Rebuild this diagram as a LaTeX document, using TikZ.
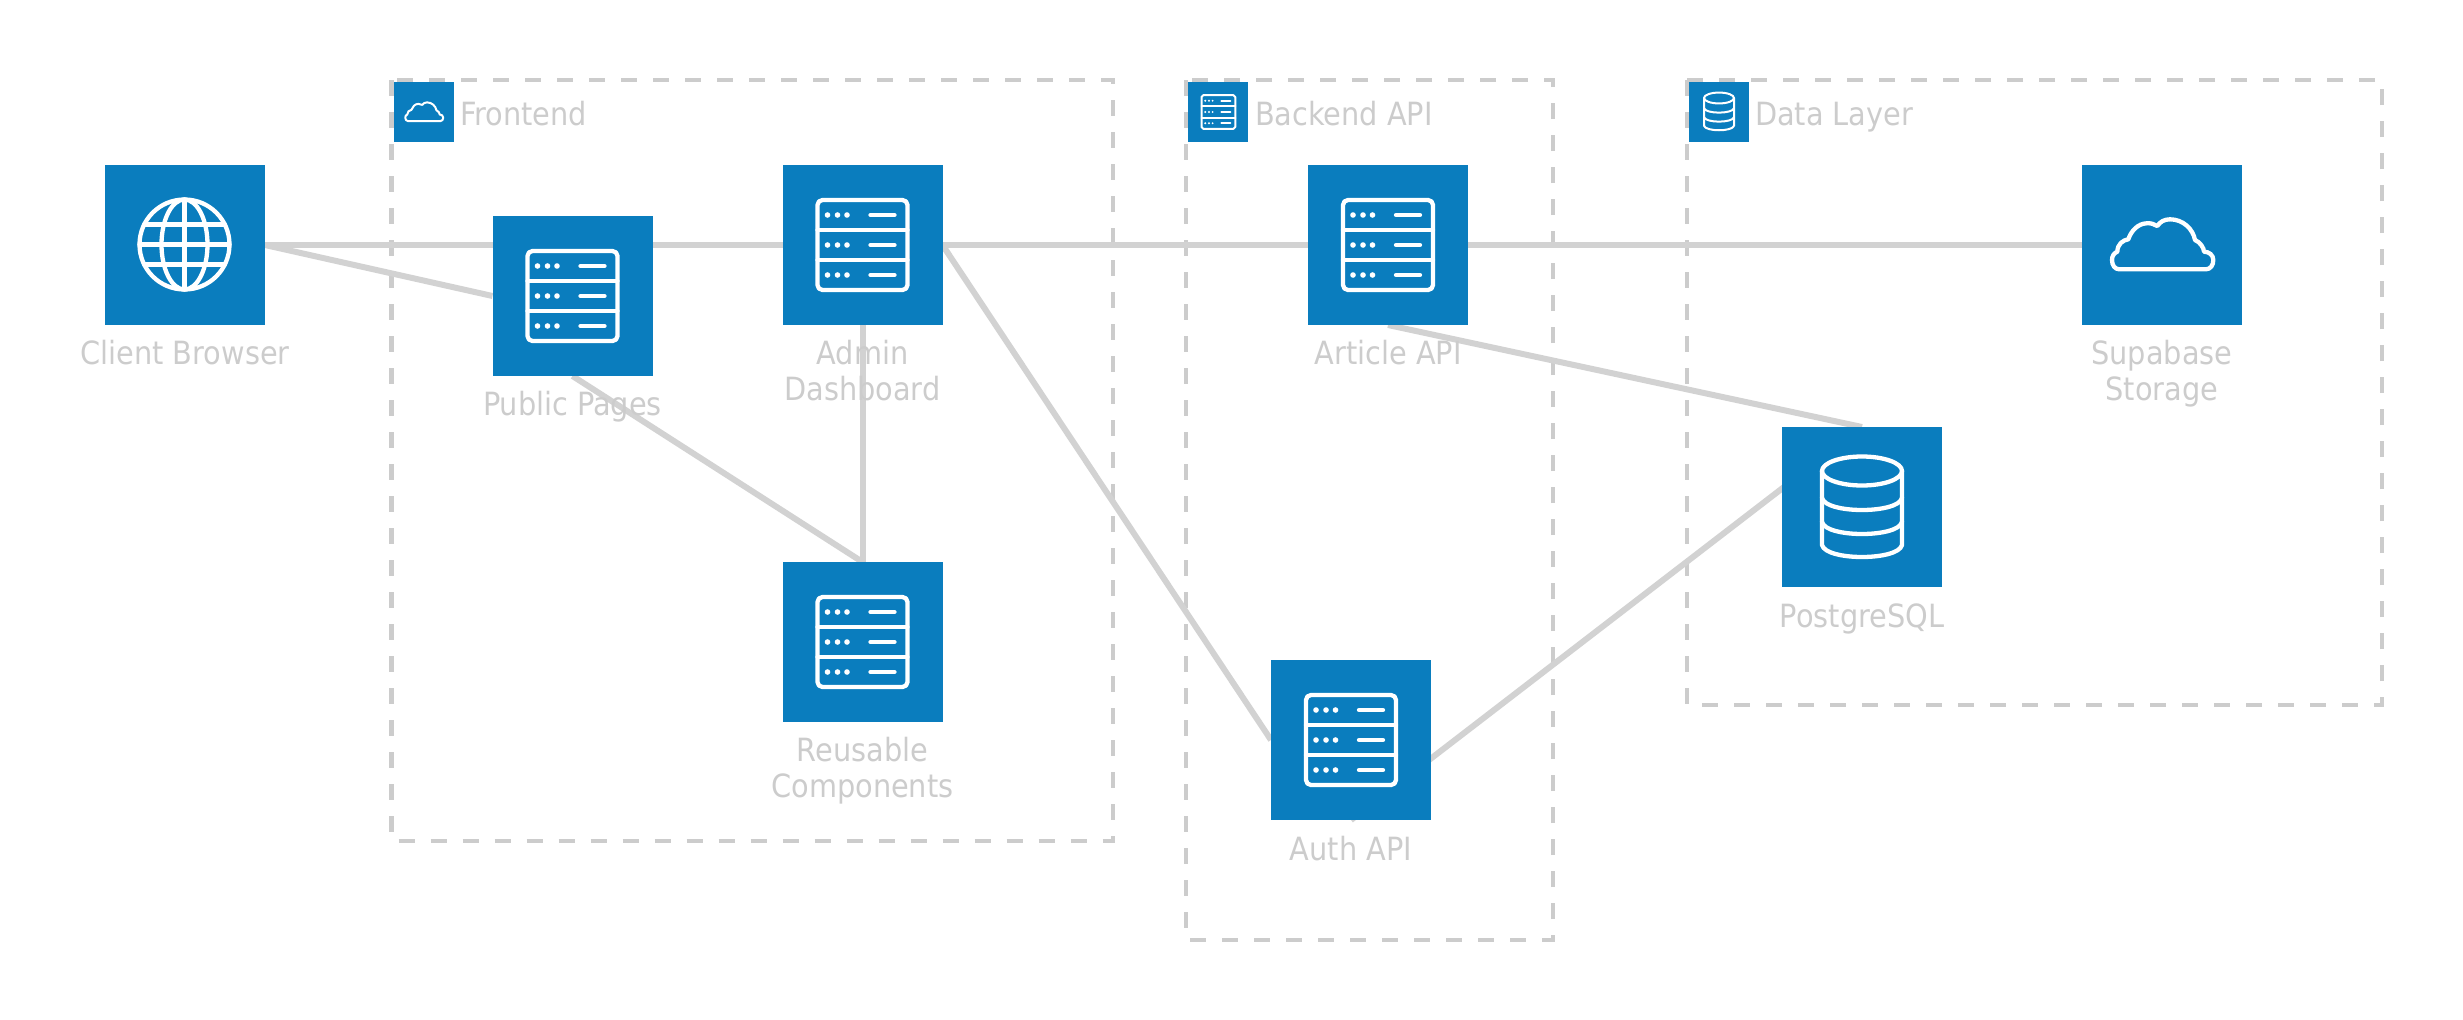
\documentclass[tikz,border=0pt]{standalone}
\usepackage{fontspec}
\setmainfont{DejaVu Sans Condensed}
\usetikzlibrary{backgrounds}
\definecolor{boxblue}{HTML}{0A7DBE}
\definecolor{linegray}{HTML}{D2D2D2}
\definecolor{dashgray}{HTML}{CCCCCC}
\definecolor{textgray}{HTML}{CCCCCC}
\tikzset{
  svc/.style={fill=boxblue,draw=none,inner sep=0pt,outer sep=0pt,minimum width=160pt,minimum height=160pt},
  tag/.style={fill=boxblue,draw=none,inner sep=0pt,outer sep=0pt,minimum width=60pt,minimum height=60pt},
  lbl/.style={text=textgray,inner sep=0pt,outer sep=0pt,anchor=base,align=center,font=\fontsize{32}{35.5}\selectfont},
  grplbl/.style={lbl,anchor=base west},
  conn/.style={draw=linegray,line width=6pt},
  grp/.style={draw=dashgray,line width=4.7pt,dash pattern=on 16pt off 16pt},
  ico/.style={draw=white,fill=none,line cap=round,line join=round},
}
% icons are drawn round the origin of a scope; #1 centre, #2 scale, #3 stroke width
\newcommand{\iconServer}[3]{\begin{scope}[shift={#1},scale=#2]
  \draw[ico,line width=#3,rounded corners=#2*5pt] (-45,-45) rectangle (45,45);
  \draw[ico,line width=#3] (-45,-15) -- (45,-15) (-45,15) -- (45,15);
  \foreach \r in {-30,0,30}{
    \foreach \d in {-35,-25,-15.5}{\fill[white] (\d,\r) circle (2.8);}
    \draw[ico,line width=#3] (8,\r) -- (32,\r);
  }
\end{scope}}
\newcommand{\iconCloud}[3]{\begin{scope}[shift={#1},scale=#2]
  \draw[ico,line width=#3] (-42.7,24.3) -- (44,24.3)
    .. controls (48.5,24.3) and (51.3,20) .. (51.3,15)
    .. controls (51.3,10) and (47,6.7) .. (42,6.7)
    .. controls (42,3) and (38,-3) .. (33,-5)
    .. controls (31,-16) and (21,-25.7) .. (8,-25.7)
    .. controls (2,-25.7) and (-2,-23) .. (-4.7,-19)
    .. controls (-8,-21) and (-11,-22) .. (-15.3,-21.7)
    .. controls (-24,-21.5) and (-31,-14) .. (-33.7,-5.7)
    .. controls (-39,-5) and (-44.5,-1) .. (-44.7,6.7)
    .. controls (-48,8) and (-50,11) .. (-50,15)
    .. controls (-50,20.5) and (-47,24.3) .. (-42.7,24.3) -- cycle;
\end{scope}}
\newcommand{\iconDb}[3]{\begin{scope}[shift={#1},scale=#2]
  \draw[ico,line width=#3] (0,-36) ellipse (40 and 14.5);
  \draw[ico,line width=#3] (-40,-36) -- (-40,38) .. controls (-36,54) and (36,54) .. (40,38) -- (40,-36);
  \draw[ico,line width=#3] (-40,-9) .. controls (-36,7) and (36,7) .. (40,-9);
  \draw[ico,line width=#3] (-40,15) .. controls (-36,31) and (36,31) .. (40,15);
\end{scope}}
\newcommand{\iconGlobe}[3]{\begin{scope}[shift={#1},scale=#2]
  \draw[ico,line width=#3] (0,0) circle (45);
  \draw[ico,line width=#3] (0,0) ellipse (23 and 45);
  \draw[ico,line width=#3] (0,-45) -- (0,45);
  \draw[ico,line width=#3] (-45,0) -- (45,0) (-40.3,-20) -- (40.3,-20) (-40.3,20) -- (40.3,20);
\end{scope}}
\begin{document}
\begin{tikzpicture}[x=1pt,y=-1pt]
\useasboundingbox (0,0) rectangle (2463,1020);
% service boxes
\node[svc] (client) at (185,245) {};
\node[svc] (public) at (572.5,296) {};
\node[svc] (admin) at (862.5,245) {};
\node[svc] (reuse) at (862.5,642) {};
\node[svc] (article) at (1388,245) {};
\node[svc] (auth) at (1351,740) {};
\node[svc] (pg) at (1862,507) {};
\node[svc] (store) at (2162,245) {};
% group tags
\node[tag] (tagfront) at (424,112) {};
\node[tag] (tagback) at (1218.4,112) {};
\node[tag] (tagdata) at (1719,112) {};
\begin{scope}[on background layer]
  \draw[grp] (391.5,80) rectangle (1113,841);
  \draw[grp] (1186,80) rectangle (1553,940);
  \draw[grp] (1687,80) rectangle (2382,705);
  \draw[conn] (client.east) -- (admin.west);
  \draw[conn] (client.east) -- (public.west);
  \draw[conn] (public.south) -- (reuse.north);
  \draw[conn] (admin.south) -- (reuse.north);
  \draw[conn] (admin.east) -- (article.west);
  \draw[conn] (admin.east) -- (auth.west);
  \draw[conn] (article.east) -- (store.west);
  \draw[conn] (article.south) -- (pg.north);
  \draw[conn] (auth.south) -- (pg.north);
\end{scope}
% icons
\iconGlobe{(184.5,244.5)}{1}{4.3pt}
\iconServer{(572.5,296)}{1}{4.3pt}
\iconServer{(862.5,245)}{1}{4.3pt}
\iconServer{(862.5,642)}{1}{4.3pt}
\iconServer{(1388,245)}{1}{4.3pt}
\iconServer{(1351,740)}{1}{4.3pt}
\iconDb{(1862,507)}{1}{4.3pt}
\iconCloud{(2162,245)}{1}{4.3pt}
\iconCloud{(424,112)}{0.375}{2pt}
\iconServer{(1218.4,112)}{0.375}{2pt}
\iconDb{(1719,111.5)}{0.375}{2pt}
% labels
\node[lbl] (lclient) at (185,364) {Client Browser};
\node[lbl] (lpublic) at (572.5,415) {Public Pages};
\node[lbl] (ladmin) at (862.5,400) {Admin\\Dashboard};
\node[lbl] (lreuse) at (862.5,797) {Reusable\\Components};
\node[lbl] (larticle) at (1388,364) {Article API};
\node[lbl] (lauth) at (1351,860) {Auth API};
\node[lbl] (lpg) at (1862,627) {PostgreSQL};
\node[lbl] (lstore) at (2162,400) {Supabase\\Storage};
\node[grplbl] (gfront) at (460,125.5) {Frontend};
\node[grplbl] (gback) at (1255,125.5) {Backend API};
\node[grplbl] (gdata) at (1755,125.5) {Data Layer};
\end{tikzpicture}
\end{document}
